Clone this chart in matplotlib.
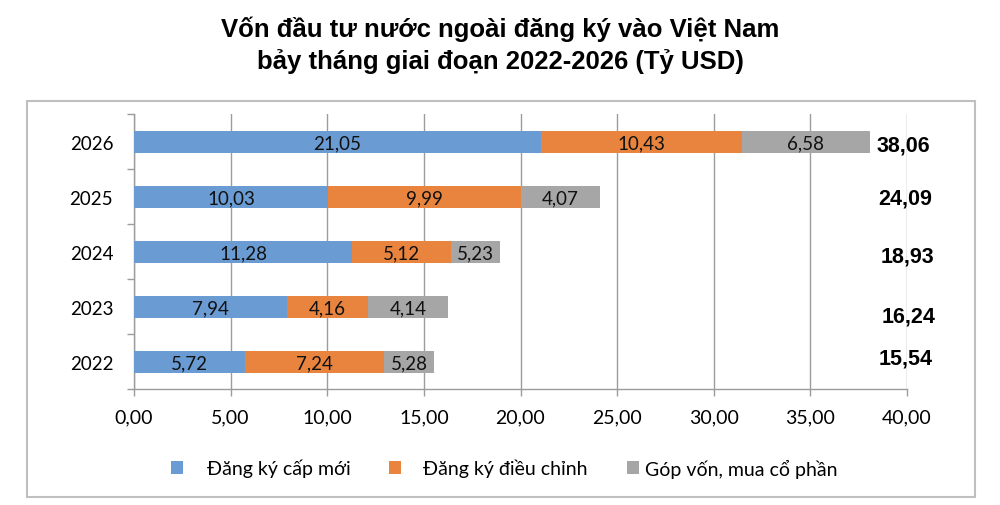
import matplotlib
matplotlib.use("Agg")
import matplotlib.pyplot as plt
from matplotlib.patches import Rectangle, Patch
import numpy as np

# ---- data ----
years = ["2022", "2023", "2024", "2025", "2026"]
new_reg = [5.72, 7.94, 11.28, 10.03, 21.05]
adjusted = [7.24, 4.16, 5.12, 9.99, 10.43]
capital = [5.28, 4.14, 5.23, 4.07, 6.58]          # labels shown on the gray segments
totals = [15.54, 16.24, 18.93, 24.09, 38.06]      # the gray segment ends at the total
series_names = ["Đăng ký cấp mới", "Đăng ký điều chỉnh", "Góp vốn, mua cổ phần"]
title_lines = ["Vốn đầu tư nước ngoài đăng ký vào Việt Nam",
               "bảy tháng giai đoạn 2022-2026 (Tỷ USD)"]
xticks = [0, 5, 10, 15, 20, 25, 30, 35, 40]

# ---- layout (not data) ----
colors = ["#6a9bd3", "#e8843e", "#a6a6a6"]
total_dy = [0.073, -0.18, -0.09, -0.036, -0.055]
total_x = [39.95, 40.1, 40.0, 39.9, 39.8]
legend_x_px = [171, 389, 627]
legend_gap = [1.24, 1.15, 0.31]

body_font = ["Lato", "Open Sans", "DejaVu Sans"]
bold_font = ["Liberation Sans", "DejaVu Sans"]
W, H = 1000, 506

def fmt(v):
    return f"{v:.2f}".replace(".", ",")

fig = plt.figure(figsize=(10, 5.06), dpi=100)
ax = fig.add_axes([0.134, 0.2292, 0.907 - 0.134, 0.7727 - 0.2292])

y = np.arange(len(years))
h = 0.4
new_a = np.array(new_reg)
adj_a = np.array(adjusted)
tot_a = np.array(totals)
segments = [
    (np.zeros(len(years)), new_a, new_reg),
    (new_a, adj_a, adjusted),
    (new_a + adj_a, tot_a - new_a - adj_a, capital),
]
for (lft, wid, labels), c, name in zip(segments, colors, series_names):
    bars = ax.barh(y, wid, height=h, left=lft, color=c, label=name, zorder=3)
    for b, v in zip(bars, labels):
        ax.text(b.get_x() + b.get_width() / 2, b.get_y() + b.get_height() / 2 - 0.02,
                fmt(v), ha="center", va="center",
                fontsize=13.5, family=body_font, color="#111111", zorder=4)

for i, t in enumerate(totals):
    ax.text(total_x[i], y[i] + total_dy[i], fmt(t),
            ha="center", va="center", fontsize=15.5, fontweight="bold",
            family=bold_font, color="black", zorder=5, clip_on=False)

ax.set_xlim(0, 40)
ax.set_ylim(-0.5, len(years) - 0.5)
ax.set_xticks(xticks)
ax.set_xticklabels([fmt(v) for v in xticks], fontsize=14, family=body_font)
ax.set_yticks(y)
ax.set_yticklabels(years, fontsize=13.5, family=body_font)
ax.set_yticks(np.arange(-0.5, len(years), 1.0), minor=True)

ax.grid(axis="x", color="#9c9c9c", linewidth=1.0, zorder=0)
for s in ["top", "right"]:
    ax.spines[s].set_visible(False)
for s in ["left", "bottom"]:
    ax.spines[s].set_color("#9c9c9c")
    ax.spines[s].set_linewidth(1.0)
ax.tick_params(axis="y", which="major", length=0, pad=15)
ax.tick_params(axis="y", which="minor", length=5, color="#9c9c9c", width=1.0)
ax.tick_params(axis="x", which="major", length=5, color="#9c9c9c", width=1.0, pad=9)

for c, name, xp, gap in zip(colors, series_names, legend_x_px, legend_gap):
    fig.legend([Patch(facecolor=c, edgecolor="none")], [name],
               loc="center left", bbox_to_anchor=(xp / W, 1 - 469 / H),
               frameon=False, handlelength=0.62, handleheight=0.62,
               handletextpad=gap, borderpad=0, borderaxespad=0,
               prop={"family": body_font, "size": 14})

fig.text(0.5, 1 - 36.7 / H, title_lines[0], ha="center", va="baseline",
         fontsize=18.5, fontweight="bold", family=bold_font)
fig.text(0.5, 1 - 69 / H, title_lines[1], ha="center", va="baseline",
         fontsize=18.5, fontweight="bold", family=bold_font)

fig.patches.append(Rectangle((27 / W, 1 - 498 / H), (975 - 27) / W, (498 - 102) / H,
                             transform=fig.transFigure, fill=False,
                             edgecolor="#bfbfbf", linewidth=1.5))

fig.savefig("out.png", dpi=100)
